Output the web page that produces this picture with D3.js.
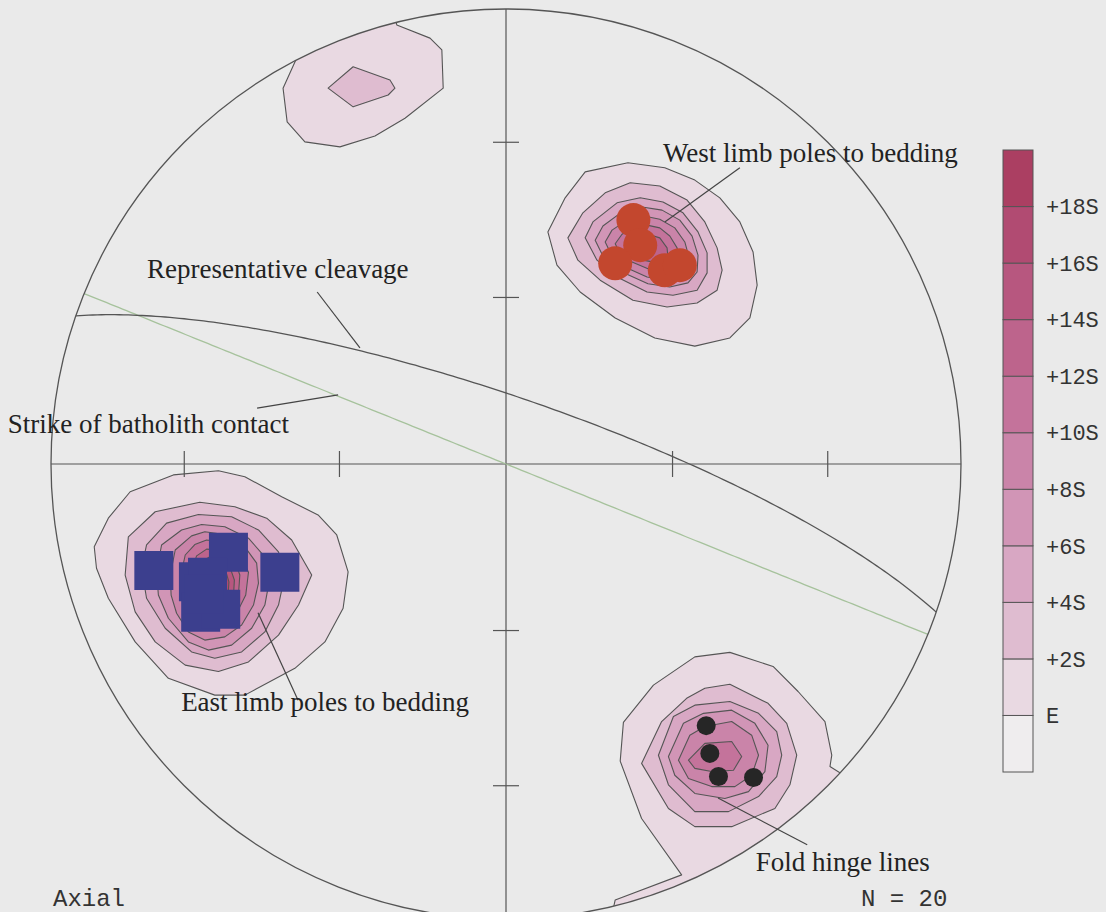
<!DOCTYPE html>
<html>
<head>
<meta charset="utf-8">
<style>
  body { margin: 0; background: #eaeaea; }
  svg { display: block; }
</style>
<script src="https://cdn.jsdelivr.net/npm/d3@7"></script>
</head>
<body>
<svg id="net"></svg>
<script>
// ---- data (net coordinates: [east, north], primitive radius = 1) ----

const levelLabels = ['E', '+2S', '+4S', '+6S', '+8S', '+10S', '+12S', '+14S', '+16S', '+18S'];

const westLimbPoles = [[0.280, 0.536], [0.295, 0.481], [0.240, 0.441], [0.349, 0.426], [0.382, 0.437]];

const eastLimbPoles = [
  [-0.774, -0.234], [-0.610, -0.194], [-0.497, -0.238], [-0.676, -0.259],
  [-0.656, -0.249], [-0.671, -0.326], [-0.627, -0.319], [-0.664, -0.286]
];

const foldHinges = [[0.440, -0.575], [0.448, -0.636], [0.467, -0.687], [0.544, -0.689]];

// planes as dip direction / dip
const cleavage = { dipDir: 19, dip: 78 };
const batholithContact = { dipDir: 22, dip: 90 };

// contour rings, outer (E) first, each next ring is +2S higher
const westContours = [
  [[0.092, 0.510], [0.130, 0.585], [0.174, 0.642], [0.268, 0.662], [0.349, 0.651], [0.415, 0.624], [0.470, 0.585], [0.514, 0.532], [0.543, 0.466], [0.552, 0.393], [0.536, 0.321], [0.492, 0.277], [0.415, 0.259], [0.327, 0.277], [0.240, 0.321], [0.163, 0.378], [0.112, 0.437]],
  [[0.136, 0.497], [0.169, 0.552], [0.218, 0.596], [0.273, 0.618], [0.338, 0.611], [0.398, 0.580], [0.437, 0.532], [0.464, 0.475], [0.475, 0.426], [0.464, 0.382], [0.420, 0.354], [0.354, 0.345], [0.279, 0.360], [0.207, 0.404], [0.158, 0.448]],
  [[0.174, 0.497], [0.191, 0.532], [0.244, 0.574], [0.295, 0.585], [0.345, 0.576], [0.389, 0.552], [0.422, 0.510], [0.442, 0.464], [0.442, 0.420], [0.420, 0.382], [0.367, 0.371], [0.310, 0.378], [0.244, 0.411], [0.200, 0.448]],
  [[0.196, 0.492], [0.213, 0.523], [0.255, 0.554], [0.299, 0.565], [0.343, 0.558], [0.382, 0.536], [0.409, 0.501], [0.422, 0.459], [0.420, 0.422], [0.400, 0.398], [0.360, 0.389], [0.312, 0.396], [0.255, 0.422], [0.215, 0.453]],
  [[0.218, 0.488], [0.233, 0.514], [0.266, 0.536], [0.303, 0.545], [0.338, 0.538], [0.371, 0.519], [0.393, 0.488], [0.402, 0.455], [0.398, 0.426], [0.378, 0.409], [0.347, 0.404], [0.310, 0.411], [0.266, 0.431], [0.233, 0.457]],
  [[0.240, 0.484], [0.255, 0.505], [0.281, 0.521], [0.310, 0.525], [0.338, 0.519], [0.360, 0.501], [0.376, 0.475], [0.380, 0.448], [0.371, 0.431], [0.343, 0.424], [0.312, 0.429], [0.277, 0.444], [0.251, 0.462]],
  [[0.262, 0.481], [0.284, 0.501], [0.312, 0.505], [0.338, 0.497], [0.354, 0.475], [0.356, 0.453], [0.334, 0.442], [0.301, 0.448], [0.273, 0.462]]
];

const eastContours = [
  [[-0.905, -0.182], [-0.874, -0.119], [-0.826, -0.061], [-0.731, -0.024], [-0.632, -0.015], [-0.574, -0.028], [-0.493, -0.072], [-0.413, -0.112], [-0.372, -0.156], [-0.347, -0.237], [-0.358, -0.317], [-0.398, -0.391], [-0.464, -0.449], [-0.574, -0.508], [-0.640, -0.508], [-0.742, -0.471], [-0.815, -0.391], [-0.874, -0.295], [-0.900, -0.229]],
  [[-0.837, -0.244], [-0.830, -0.160], [-0.771, -0.105], [-0.673, -0.084], [-0.596, -0.094], [-0.526, -0.119], [-0.471, -0.167], [-0.427, -0.244], [-0.456, -0.310], [-0.500, -0.376], [-0.566, -0.435], [-0.632, -0.456], [-0.705, -0.442], [-0.771, -0.391], [-0.815, -0.325]],
  [[-0.801, -0.229], [-0.790, -0.178], [-0.746, -0.130], [-0.676, -0.111], [-0.603, -0.116], [-0.544, -0.145], [-0.500, -0.193], [-0.486, -0.244], [-0.500, -0.310], [-0.530, -0.369], [-0.581, -0.413], [-0.640, -0.427], [-0.691, -0.413], [-0.749, -0.361], [-0.790, -0.295]],
  [[-0.768, -0.237], [-0.757, -0.178], [-0.713, -0.145], [-0.669, -0.133], [-0.618, -0.138], [-0.566, -0.163], [-0.530, -0.204], [-0.519, -0.251], [-0.530, -0.310], [-0.559, -0.361], [-0.603, -0.398], [-0.654, -0.409], [-0.698, -0.391], [-0.742, -0.339], [-0.764, -0.288]],
  [[-0.738, -0.244], [-0.727, -0.189], [-0.691, -0.158], [-0.662, -0.149], [-0.618, -0.155], [-0.574, -0.182], [-0.548, -0.218], [-0.544, -0.262], [-0.555, -0.310], [-0.581, -0.354], [-0.618, -0.380], [-0.662, -0.387], [-0.698, -0.369], [-0.724, -0.328], [-0.736, -0.288]],
  [[-0.716, -0.251], [-0.705, -0.200], [-0.684, -0.177], [-0.658, -0.167], [-0.618, -0.172], [-0.585, -0.198], [-0.566, -0.238], [-0.572, -0.288], [-0.592, -0.328], [-0.625, -0.352], [-0.662, -0.360], [-0.689, -0.341], [-0.709, -0.303]],
  [[-0.695, -0.244], [-0.680, -0.202], [-0.658, -0.187], [-0.621, -0.190], [-0.596, -0.212], [-0.585, -0.244], [-0.588, -0.288], [-0.603, -0.317], [-0.629, -0.336], [-0.658, -0.339], [-0.678, -0.322], [-0.691, -0.284]],
  [[-0.676, -0.244], [-0.669, -0.215], [-0.651, -0.204], [-0.625, -0.207], [-0.607, -0.226], [-0.597, -0.255], [-0.599, -0.292], [-0.614, -0.314], [-0.636, -0.325], [-0.658, -0.321], [-0.673, -0.295], [-0.678, -0.270]],
  [[-0.658, -0.244], [-0.640, -0.222], [-0.618, -0.229], [-0.609, -0.259], [-0.611, -0.292], [-0.625, -0.306], [-0.643, -0.306], [-0.655, -0.284]]
];

const hingeContours = [
  [[0.240, -0.958], [0.386, -0.903], [0.298, -0.779], [0.251, -0.653], [0.258, -0.568], [0.324, -0.486], [0.415, -0.424], [0.492, -0.414], [0.587, -0.445], [0.642, -0.500], [0.701, -0.566], [0.716, -0.640], [0.712, -0.665], [0.80, -0.72], [0.60, -1.00], [0.22, -1.05]],
  [[0.492, -0.484], [0.576, -0.526], [0.617, -0.570], [0.639, -0.640], [0.624, -0.705], [0.591, -0.757], [0.496, -0.797], [0.415, -0.797], [0.357, -0.757], [0.298, -0.658], [0.342, -0.566], [0.397, -0.515], [0.437, -0.493]],
  [[0.335, -0.640], [0.368, -0.555], [0.415, -0.530], [0.492, -0.522], [0.555, -0.548], [0.595, -0.588], [0.606, -0.640], [0.595, -0.687], [0.555, -0.731], [0.489, -0.764], [0.415, -0.764], [0.357, -0.705]],
  [[0.357, -0.643], [0.390, -0.570], [0.434, -0.548], [0.496, -0.541], [0.547, -0.570], [0.576, -0.618], [0.569, -0.676], [0.533, -0.720], [0.481, -0.735], [0.415, -0.724], [0.371, -0.684]],
  [[0.379, -0.651], [0.404, -0.596], [0.437, -0.577], [0.496, -0.566], [0.540, -0.596], [0.555, -0.640], [0.540, -0.684], [0.503, -0.709], [0.452, -0.709], [0.401, -0.691]],
  [[0.401, -0.651], [0.437, -0.614], [0.496, -0.610], [0.518, -0.643], [0.500, -0.673], [0.452, -0.676], [0.415, -0.669]]
];

// part of the hinge maximum that wraps round the primitive
const hingeWrapContours = [
  [[-0.457, 0.899], [-0.490, 0.826], [-0.481, 0.752], [-0.442, 0.708], [-0.365, 0.697], [-0.288, 0.721], [-0.222, 0.760], [-0.138, 0.826], [-0.141, 0.910], [-0.167, 0.936], [-0.240, 0.965], [-0.26, 1.05], [-0.50, 0.95]],
  [[-0.391, 0.826], [-0.336, 0.873], [-0.255, 0.844], [-0.244, 0.826], [-0.259, 0.811], [-0.336, 0.785]]
];

const tickAngles = [30, 60]; // degrees from the centre

// ---- layout / style ----
const width = 1106, height = 912;
const cx = 506, cy = 464, R = 455;
const levelColors = ['#efedee', '#e9d9e2', '#dfbcd0', '#d8a7c3', '#d195b6', '#ca84a9', '#c4739b', '#bd648c', '#b7577f', '#b14b72', '#ab3f62'];
const lineColor = '#555';

const svg = d3.select('#net').attr('width', width).attr('height', height);

const x = d3.scaleLinear().domain([-1, 1]).range([cx - R, cx + R]);
const y = d3.scaleLinear().domain([-1, 1]).range([cy + R, cy - R]);

// lower hemisphere equal-area projection of a (north, east, down) vector
const projectVec = (n, e, d) => {
  const k = Math.sqrt(1 / (1 + d));
  return [e * k, n * k];
};
const toVec = (trend, plunge) => {
  const t = trend * Math.PI / 180, p = plunge * Math.PI / 180;
  return [Math.cos(p) * Math.cos(t), Math.cos(p) * Math.sin(t), Math.sin(p)];
};
const project = (trend, plunge) => projectVec(...toVec(trend, plunge));

const greatCircle = (plane) => {
  const s = toVec(plane.dipDir - 90, 0);
  const dv = toVec(plane.dipDir, plane.dip);
  return d3.range(0, 180.5, 1).map(a => {
    const c = Math.cos(a * Math.PI / 180), sn = Math.sin(a * Math.PI / 180);
    return projectVec(c * s[0] + sn * dv[0], c * s[1] + sn * dv[1], c * s[2] + sn * dv[2]);
  });
};

const line = d3.line().x(d => x(d[0])).y(d => y(d[1]));
const ring = d3.line().x(d => x(d[0])).y(d => y(d[1])).curve(d3.curveLinearClosed);

svg.append('defs').append('clipPath').attr('id', 'prim')
  .append('circle').attr('cx', x(0)).attr('cy', y(0)).attr('r', x(1) - x(0));

// contours
const contourGroup = svg.append('g').attr('clip-path', 'url(#prim)');
[eastContours, westContours, hingeContours, hingeWrapContours].forEach(set => {
  contourGroup.append('g')
    .selectAll('path')
    .data(set)
    .join('path')
    .attr('d', ring)
    .attr('fill', (d, i) => levelColors[i + 1])
    .attr('stroke', lineColor)
    .attr('stroke-width', 1.1)
    .attr('stroke-linejoin', 'round');
});

// axes and ticks
const axes = svg.append('g').attr('stroke', lineColor).attr('stroke-width', 1.2);
axes.append('line').attr('x1', x(-1)).attr('x2', x(1)).attr('y1', y(0)).attr('y2', y(0));
axes.append('line').attr('x1', x(0)).attr('x2', x(0)).attr('y1', y(1)).attr('y2', y(-1));

const ticks = [];
[0, 90, 180, 270].forEach(tr => tickAngles.forEach(a => ticks.push({ tr, p: project(tr, 90 - a) })));
axes.selectAll('.tick')
  .data(ticks)
  .join('line')
  .attr('class', 'tick')
  .attr('x1', d => x(d.p[0]) - (d.tr % 180 === 0 ? 13 : 0))
  .attr('x2', d => x(d.p[0]) + (d.tr % 180 === 0 ? 13 : 0))
  .attr('y1', d => y(d.p[1]) - (d.tr % 180 === 0 ? 0 : 13))
  .attr('y2', d => y(d.p[1]) + (d.tr % 180 === 0 ? 0 : 13));

// planes
svg.append('path').datum(greatCircle(batholithContact))
  .attr('d', line).attr('fill', 'none').attr('stroke', '#a6c29c').attr('stroke-width', 1.3);
svg.append('path').datum(greatCircle(cleavage))
  .attr('d', line).attr('fill', 'none').attr('stroke', lineColor).attr('stroke-width', 1.3);

// primitive
svg.append('circle')
  .attr('cx', x(0)).attr('cy', y(0)).attr('r', x(1) - x(0))
  .attr('fill', 'none').attr('stroke', lineColor).attr('stroke-width', 1.3);

// data points
svg.append('g').selectAll('path')
  .data(eastLimbPoles)
  .join('path')
  .attr('transform', d => `translate(${x(d[0])},${y(d[1])})`)
  .attr('d', d3.symbol(d3.symbolSquare, 39 * 39))
  .attr('fill', '#3c3f8e');

svg.append('g').selectAll('circle')
  .data(westLimbPoles)
  .join('circle')
  .attr('cx', d => x(d[0])).attr('cy', d => y(d[1])).attr('r', 17)
  .attr('fill', '#c3472e');

svg.append('g').selectAll('circle')
  .data(foldHinges)
  .join('circle')
  .attr('cx', d => x(d[0])).attr('cy', d => y(d[1])).attr('r', 9.5)
  .attr('fill', '#262626');

// annotations
const notes = [
  { text: 'West limb poles to bedding', at: [0.345, 0.664], from: [0.514, 0.651], to: [0.349, 0.532] },
  { text: 'Representative cleavage', at: [-0.789, 0.409], from: [-0.415, 0.378], to: [-0.321, 0.255] },
  { text: 'Strike of batholith contact', at: [-1.095, 0.068], from: [-0.547, 0.123], to: [-0.369, 0.152] },
  { text: 'East limb poles to bedding', at: [-0.714, -0.543], from: [-0.457, -0.519], to: [-0.545, -0.327] },
  { text: 'Fold hinge lines', at: [0.549, -0.895], from: [0.662, -0.837], to: [0.466, -0.734] }
];
const noteGroup = svg.append('g');
noteGroup.selectAll('line')
  .data(notes)
  .join('line')
  .attr('x1', d => x(d.from[0])).attr('y1', d => y(d.from[1]))
  .attr('x2', d => x(d.to[0])).attr('y2', d => y(d.to[1]))
  .attr('stroke', '#444').attr('stroke-width', 1.2);
noteGroup.selectAll('text')
  .data(notes)
  .join('text')
  .attr('x', d => x(d.at[0])).attr('y', d => y(d.at[1]))
  .attr('font-family', '"Liberation Serif", "Times New Roman", serif')
  .attr('font-size', 27)
  .attr('fill', '#222')
  .text(d => d.text);

// footer text
const mono = '"Liberation Mono", "Courier New", monospace';
svg.append('text').attr('x', 53).attr('y', 906).attr('font-family', mono).attr('font-size', 24).attr('fill', '#333').text('Axial');
svg.append('text').attr('x', 861).attr('y', 906).attr('font-family', mono).attr('font-size', 24).attr('fill', '#333').text('N = 20');

// legend
const ly = d3.scaleLinear().domain([0, levelColors.length]).range([772, 150]);
const legend = svg.append('g').attr('transform', 'translate(1003,0)');
legend.selectAll('rect')
  .data(levelColors)
  .join('rect')
  .attr('x', 0).attr('width', 30)
  .attr('y', (d, i) => ly(i + 1)).attr('height', (d, i) => ly(i) - ly(i + 1))
  .attr('fill', d => d)
  .attr('stroke', lineColor).attr('stroke-width', 1);
legend.selectAll('text')
  .data(levelLabels)
  .join('text')
  .attr('x', 43).attr('y', (d, i) => ly(i + 1))
  .attr('dy', '0.35em')
  .attr('font-family', mono).attr('font-size', 22).attr('fill', '#333')
  .text(d => d);
</script>
</body>
</html>
